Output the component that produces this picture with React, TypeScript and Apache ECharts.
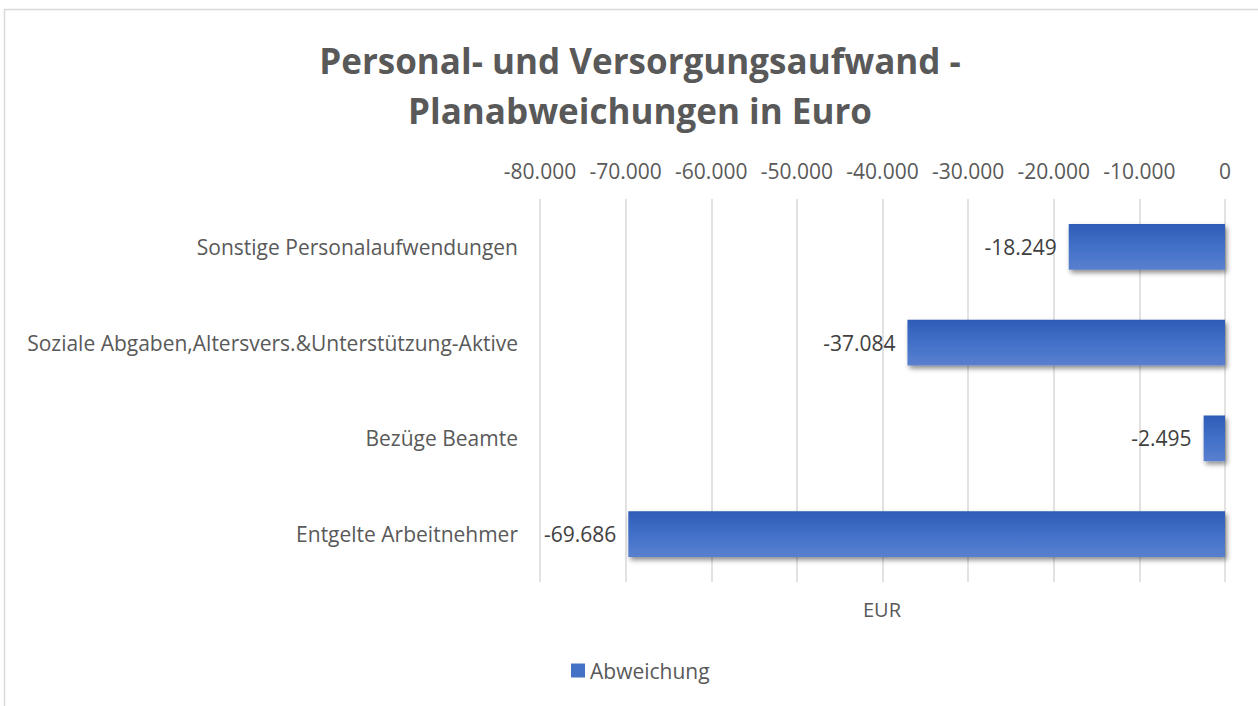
import React, { useEffect, useRef } from "react";
import * as echarts from "echarts";

const categories = [
  "Sonstige Personalaufwendungen",
  "Soziale Abgaben,Altersvers.&Unterstützung-Aktive",
  "Bezüge Beamte",
  "Entgelte Arbeitnehmer",
];
const values = [-18249, -37084, -2495, -69686];
const seriesName = "Abweichung";
const axisMin = -80000;
const axisMax = 0;
const axisInterval = 10000;
const titleText = "Personal- und Versorgungsaufwand -\nPlanabweichungen in Euro";
const axisTitle = "EUR";

const fmt = (v: number) => {
  const neg = v < 0;
  const s = Math.abs(Math.round(v)).toString().replace(/\B(?=(\d{3})+(?!\d))/g, ".");
  return (neg ? "-" : "") + s;
};

const FONT = "'Open Sans', 'Noto Sans', sans-serif";

export default function App() {
  const ref = useRef<HTMLDivElement>(null);
  useEffect(() => {
    if (!ref.current) return;
    const chart = echarts.init(ref.current, undefined, { renderer: "svg" });
    const barColor = new echarts.graphic.LinearGradient(0, 0, 0, 1, [
      { offset: 0, color: "#2E5CB6" },
      { offset: 0.5, color: "#4170C8" },
      { offset: 1, color: "#5A80CE" },
    ]);
    chart.setOption({
      animation: false,
      backgroundColor: "#ffffff",
      textStyle: { fontFamily: FONT },
      title: {
        text: titleText,
        left: 635,
        top: 30,
        textAlign: "center",
        textStyle: {
          fontFamily: FONT,
          fontSize: 35,
          fontWeight: "bold",
          color: "#595959",
          lineHeight: 50,
        },
      },
      legend: {
        bottom: 20,
        left: 566,
        itemWidth: 14,
        itemHeight: 14,
        itemGap: 6,
        icon: "rect",
        textStyle: { fontFamily: FONT, fontSize: 21, color: "#595959" },
        data: [{ name: seriesName, itemStyle: { color: "#4472C4" } }],
      },
      grid: { left: 540, right: 33, top: 199, bottom: 124, containLabel: false },
      xAxis: {
        type: "value",
        position: "top",
        min: axisMin,
        max: axisMax,
        interval: axisInterval,
        axisLine: { show: false },
        axisTick: { show: false },
        splitLine: { show: true, lineStyle: { color: "#d9d9d9", width: 1.5 } },
        axisLabel: {
          fontFamily: FONT,
          fontSize: 21,
          color: "#595959",
          margin: 18,
          formatter: (v: number) => fmt(v),
        },
      },
      yAxis: {
        type: "category",
        inverse: true,
        data: categories,
        axisLine: { show: false },
        axisTick: { show: false },
        axisLabel: { fontFamily: FONT, fontSize: 21, color: "#595959", margin: 22 },
      },
      series: [
        {
          name: seriesName,
          type: "bar",
          data: values,
          barWidth: "48%",
          itemStyle: {
            color: barColor,
            shadowColor: "rgba(0,0,0,0.45)",
            shadowBlur: 5,
            shadowOffsetX: 2,
            shadowOffsetY: 3,
          },
          label: {
            show: true,
            position: "left",
            distance: 12,
            fontFamily: FONT,
            fontSize: 21,
            color: "#404040",
            formatter: (p: any) => fmt(p.value),
          },
        },
      ],
      graphic: [
        {
          type: "rect",
          shape: { x: 4.5, y: 9.5, width: 1400, height: 900 },
          style: { fill: "none", stroke: "#d9d9d9", lineWidth: 1.5 },
          silent: true,
        },
        {
          type: "text",
          x: 882,
          y: 609,
          style: {
            text: axisTitle,
            font: "20px 'Open Sans', sans-serif",
            fill: "#595959",
            align: "center",
            verticalAlign: "middle",
          },
        },
      ],
    });
    return () => chart.dispose();
  }, []);
  return (
    <div
      ref={ref}
      style={{ position: "fixed", left: 0, top: 0, width: 1258, height: 706 }}
    />
  );
}
